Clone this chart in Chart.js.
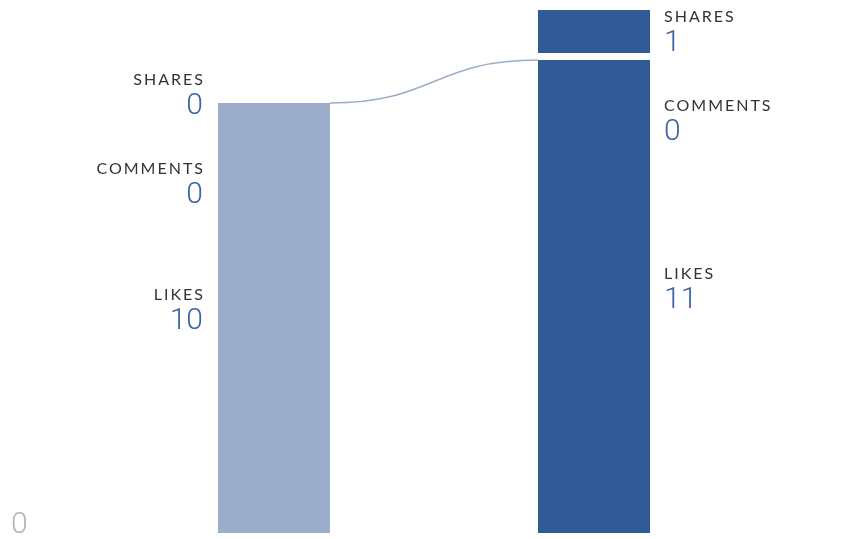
<!DOCTYPE html>
<html>
<head>
<meta charset="utf-8">
<script src="https://cdn.jsdelivr.net/npm/chart.js@4"></script>
<style>
  html, body { margin: 0; padding: 0; background: #ffffff; }
  canvas { display: block; }
</style>
</head>
<body>
<canvas id="c" width="850" height="539"></canvas>
<script>
const categories = ['Previous period', 'Current period'];
const likes = [10, 11];
const comments = [0, 0];
const shares = [0, 1];
const seriesNames = ['LIKES', 'COMMENTS', 'SHARES'];
const barColors = ['#9aaecb', '#315b96'];
const yTicks = [0];

const LABEL_FONT = 'Lato, "Open Sans", sans-serif';
const VALUE_FONT = 'Roboto, Lato, sans-serif';
const SEG_GAP = 7;

const gapPlugin = {
  id: 'segGap',
  afterDatasetsUpdate(chart) {
    const ds = chart.data.datasets[2];
    const meta = chart.getDatasetMeta(2);
    meta.data.forEach((el, i) => {
      if (ds.data[i] > 0) { el.y -= SEG_GAP; el.base -= SEG_GAP; }
    });
  }
};

const annotatePlugin = {
  id: 'annotate',
  afterDatasetsDraw(chart) {
    const ctx = chart.ctx;
    ctx.save();
    // connecting curve
    const cm = chart.getDatasetMeta(1);
    const a = cm.data[0], b = cm.data[1];
    const x1 = a.x + a.width / 2, y1 = Math.min(a.y, a.base);
    const x2 = b.x - b.width / 2, y2 = Math.min(b.y, b.base);
    const k = (x2 - x1) / 2;
    ctx.beginPath();
    ctx.moveTo(x1, y1);
    ctx.bezierCurveTo(x1 + k, y1, x2 - k, y2, x2, y2);
    ctx.strokeStyle = '#9aaecb';
    ctx.lineWidth = 1.5;
    ctx.stroke();

    // labels
    for (let i = 0; i < categories.length; i++) {
      let prev = null;
      [2, 1, 0].forEach(d => {
        const el = chart.getDatasetMeta(d).data[i];
        const top = Math.min(el.y, el.base), bot = Math.max(el.y, el.base);
        let c = (top + bot) / 2;
        if (prev === null) c = Math.max(c, 40);
        else c = Math.max(c, prev + 89);
        prev = c;
        const leftSide = i === 0;
        const tx = leftSide ? el.x - el.width / 2 - 15 : el.x + el.width / 2 + 14;
        ctx.textAlign = leftSide ? 'right' : 'left';
        ctx.textBaseline = 'alphabetic';
        ctx.fillStyle = '#333333';
        ctx.font = '400 16px ' + LABEL_FONT;
        ctx.letterSpacing = '2px';
        ctx.fillText(chart.data.datasets[d].label, tx + (leftSide ? 2 : 0), c - 24 + 6);
        ctx.letterSpacing = '0px';
        ctx.fillStyle = '#3a64a0';
        ctx.font = '300 30px ' + VALUE_FONT;
        ctx.fillText(String(chart.data.datasets[d].data[i]), tx, c + 11);
      });
    }

    // y tick
    const ys = chart.scales.y;
    ctx.textAlign = 'left';
    ctx.fillStyle = '#b5b5b5';
    ctx.font = '300 30px ' + VALUE_FONT;
    yTicks.forEach(t => ctx.fillText(String(t), 11, ys.getPixelForValue(t)));
    ctx.restore();
  }
};

const seriesData = [likes, comments, shares];
new Chart(document.getElementById('c'), {
  type: 'bar',
  data: {
    labels: categories,
    datasets: seriesData.map((arr, k) => ({
      label: seriesNames[k],
      data: arr,
      backgroundColor: barColors,
      borderWidth: 0,
      clip: false,
      categoryPercentage: 0.35,
      barPercentage: 1
    }))
  },
  options: {
    responsive: false,
    animation: false,
    events: [],
    layout: { padding: { left: 114, right: 96, top: 17, bottom: 6 } },
    plugins: { legend: { display: false }, tooltip: { enabled: false } },
    scales: {
      x: { stacked: true, display: false },
      y: { stacked: true, display: false, min: 0, max: 12 }
    }
  },
  plugins: [gapPlugin, annotatePlugin]
});
</script>
</body>
</html>
